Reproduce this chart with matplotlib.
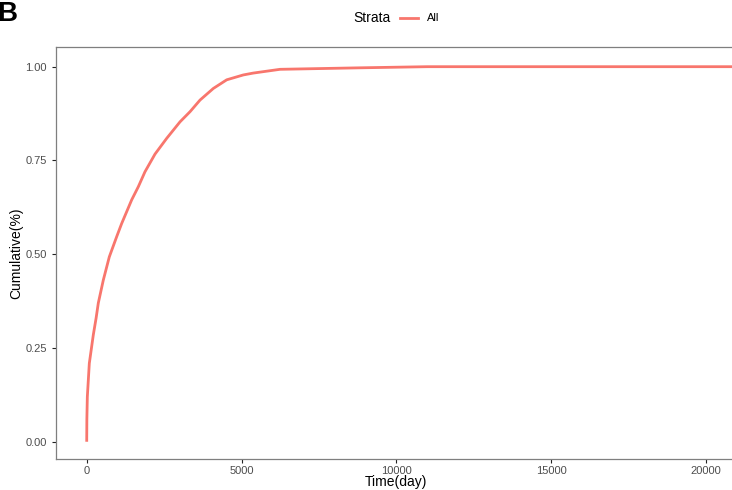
import matplotlib
matplotlib.use("Agg")
import matplotlib.pyplot as plt
from matplotlib.lines import Line2D

# cumulative curve
time_day = [0, 5, 20, 84, 213, 304, 375, 536, 730, 969, 1130, 1453, 1667,
            1883, 2206, 2584, 3014, 3337, 3660, 4090, 4522, 5058, 5381, 6244,
            8828, 11000, 21500]
cumulative = [0.0, 0.06, 0.12, 0.209, 0.285, 0.33, 0.37, 0.431, 0.493, 0.547,
              0.582, 0.645, 0.68, 0.72, 0.767, 0.809, 0.853, 0.88, 0.911,
              0.942, 0.965, 0.978, 0.983, 0.993, 0.997, 1.0, 1.0]
x_ticks = [0, 5000, 10000, 15000, 20000]
y_ticks = [0.0, 0.25, 0.5, 0.75, 1.0]
y_labels = ["0.00", "0.25", "0.50", "0.75", "1.00"]

plt.rcParams["font.family"] = ["Liberation Sans", "DejaVu Sans"]

W, H = 732, 490
fig = plt.figure(figsize=(W / 100, H / 100), dpi=100)
ax = fig.add_axes([56 / W, (H - 459) / H, (W - 56) / W, (459 - 47) / H])

ax.plot(time_day, cumulative, color="#F8766D", lw=2.0, solid_capstyle="butt")

ax.set_xlim(-992, 20843)
ax.set_ylim(-0.046, 1.0525)
ax.set_xticks(x_ticks)
ax.set_xticklabels([str(t) for t in x_ticks])
ax.set_yticks(y_ticks)
ax.set_yticklabels(y_labels)
ax.tick_params(colors="#222222", labelcolor="#4D4D4D", labelsize=8,
               length=3, width=0.8)
ax.tick_params(axis="x", pad=2)
for s in ["left", "bottom", "top"]:
    ax.spines[s].set_color("#7F7F7F")
    ax.spines[s].set_linewidth(0.9)
ax.spines["right"].set_visible(False)

# axis titles placed where the reference has them
fig.text(396 / W, 1 - 482 / H, "Time(day)", fontsize=10, ha="center",
         va="center")
fig.text(16 / W, 1 - 253 / H, "Cumulative(%)", fontsize=10, ha="center",
         va="center", rotation=90)

# legend on top, drawn by hand (title beside the key)
ly = 1 - 18 / H
fig.text(353 / W, ly, "Strata", fontsize=10, va="center", ha="left")
fig.add_artist(Line2D([400 / W, 418 / W], [ly, ly], color="#F8766D", lw=2.0,
                      transform=fig.transFigure))
fig.text(427 / W, ly, "All", fontsize=8, va="center", ha="left")

fig.text(-3 / W, 1 - 14 / H, "B", fontsize=20, fontweight="bold",
         va="center", ha="left")

fig.savefig("out.png", dpi=100)
